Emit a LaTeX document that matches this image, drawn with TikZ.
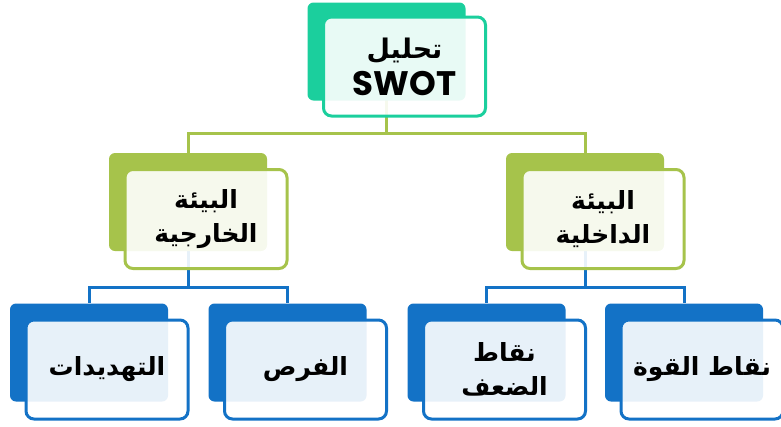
\documentclass[tikz,border=0pt]{standalone}
\usepackage{fontspec}
\usetikzlibrary{backgrounds}
\newfontfamily\arabicfont[Script=Arabic]{DejaVu Sans}
\newfontfamily\latinfont{Poppins}
\TeXXeTstate=1
\definecolor{cteal}{HTML}{1BCF9D}
\definecolor{colive}{HTML}{A6C34B}
\definecolor{cblue}{HTML}{1372C6}
\begin{document}
\begin{tikzpicture}[x=1pt,y=-1pt,
  backbox/.style={draw=none, fill=#1, rounded corners=6pt, minimum width=158pt, minimum height=98pt, inner sep=0pt},
  frontbox/.style={draw=#1, line width=3pt, fill=white, fill opacity=0.9, text opacity=1, rounded corners=8pt, minimum width=162pt, minimum height=99pt, align=center, inner sep=0pt, font=\fontsize{25}{34}\selectfont\bfseries},
  conn/.style={draw=#1, line width=3pt}]
\useasboundingbox (0,0) rectangle (781,426);
% back boxes
\node[backbox=cteal] (tb) at (386.5,51.5) {};
\node[backbox=colive] (lb) at (188,202) {};
\node[backbox=colive] (rb) at (585,202) {};
\node[backbox=cblue] (b1) at (89,352.5) {};
\node[backbox=cblue] (b2) at (287.5,352.5) {};
\node[backbox=cblue] (b3) at (486.5,352.5) {};
\node[backbox=cblue] (b4) at (684,352.5) {};
% front boxes
\node[frontbox=cteal] (tf) at ([shift={(18,15)}]tb.center) {\arabicfont\fontsize{27}{34}\selectfont\bfseries\beginR تحليل\endR\\[3pt] {\latinfont\fontsize{34}{36}\selectfont\bfseries SWOT}};
\node[frontbox=colive] (lf) at ([shift={(18,17)}]lb.center) {\arabicfont\beginR البيئة\endR\\ \arabicfont\beginR الخارجية\endR};
\node[frontbox=colive] (rf) at ([shift={(18,17)}]rb.center) {\arabicfont\beginR البيئة\endR\\ \arabicfont\beginR الداخلية\endR};
\node[frontbox=cblue] (f1) at ([shift={(18,17)}]b1.center) {\arabicfont\beginR التهديدات\endR};
\node[frontbox=cblue] (f2) at ([shift={(18,17)}]b2.center) {\arabicfont\beginR الفرص\endR};
\node[frontbox=cblue] (f3) at ([shift={(18,17)}]b3.center) {\arabicfont\beginR نقاط\endR\\ \arabicfont\beginR الضعف\endR};
\node[frontbox=cblue] (f4) at ([shift={(18,17)}]b4.center) {\arabicfont\beginR نقاط القوة\endR};
% connectors
\coordinate (ya) at (0,133);
\coordinate (yb) at (0,287);
\begin{pgfonlayer}{background}
\draw[conn=colive] (tb.center) -- (tb.center |- ya) -| (lb.north);
\draw[conn=colive] (tb.center |- ya) -| (rb.north);
\draw[conn=cblue] (lb.center) -- (lb.center |- yb) -| (b1.north);
\draw[conn=cblue] (lb.center |- yb) -| (b2.north);
\draw[conn=cblue] (rb.center) -- (rb.center |- yb) -| (b3.north);
\draw[conn=cblue] (rb.center |- yb) -| (b4.north);
\end{pgfonlayer}
\end{tikzpicture}
\end{document}
